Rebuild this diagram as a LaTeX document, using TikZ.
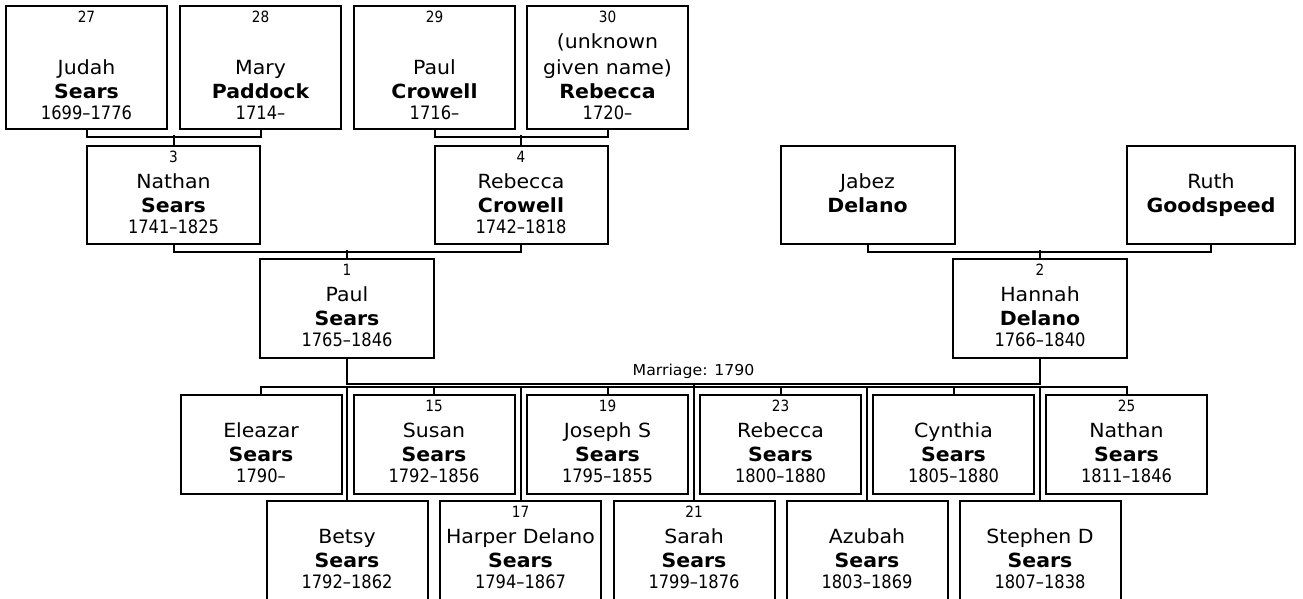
\documentclass[tikz,border=0pt]{standalone}
\usepackage{fontspec}
\setmainfont{DejaVu Sans}
\newfontfamily\namefont[FakeStretch=1.05]{DejaVu Sans}
\newfontfamily\datefont[FakeStretch=0.88]{DejaVu Sans}
\usetikzlibrary{calc}

% shift of the name lines in the top row
\def\lsh{0}
% box with number, given name, surname, dates
\newcommand{\pbox}[9]{%
  \node[pers,minimum width=#4,minimum height=#5,anchor=north] (#1) at (#2,#3) {};
  \if\relax\detokenize{#6}\relax\else
    \node[numtxt] at ([yshift=-17]#1.north) {#6};\fi
  \node[giventxt] at ([yshift=-43-\lsh]#1.north) {#7};
  \node[surtxt] at ([yshift=-67-\lsh]#1.north) {#8};
  \if\relax\detokenize{#9}\relax\else
    \node[datetxt] at ([yshift=-88-\lsh]#1.north) {#9};\fi
}

\begin{document}
\begin{tikzpicture}[x=1pt,y=-1pt]
\tikzstyle{pers}=[draw,line width=2pt,rectangle,inner sep=0pt]
\tikzstyle{numtxt}=[anchor=base,inner sep=0pt,font=\datefont\fontsize{15.5}{18}\selectfont]
\tikzstyle{giventxt}=[anchor=base,inner sep=0pt,font=\namefont\fontsize{19.5}{23}\selectfont]
\tikzstyle{surtxt}=[anchor=base,inner sep=0pt,font=\namefont\bfseries\fontsize{19.5}{23}\selectfont]
\tikzstyle{datetxt}=[anchor=base,inner sep=0pt,font=\datefont\fontsize{18.5}{22}\selectfont]
\tikzstyle{wedtxt}=[anchor=base,inner sep=0pt,font=\namefont\fontsize{15}{18}\selectfont]
\tikzstyle{conn}=[draw,line width=2pt]

\useasboundingbox (0,0) rectangle (1303,598);
\clip (0,0) rectangle (1303,598);

% great-grandparents
\def\lsh{26}
\pbox{judah}{86.5}{5}{161}{123}{27}{Judah}{Sears}{1699–1776}
\pbox{mary}{260.5}{5}{161}{123}{28}{Mary}{Paddock}{1714–}
\pbox{paulc}{434.5}{5}{161}{123}{29}{Paul}{Crowell}{1716–}
\pbox{rebecr}{607.5}{5}{161}{123}{30}{given name)}{Rebecca}{1720–}
\node[giventxt] at ([yshift=-43]rebecr.north) {(unknown};
\def\lsh{0}

% grandparents
\pbox{nathan}{173.5}{145}{173}{98}{3}{Nathan}{Sears}{1741–1825}
\pbox{rebecca}{521}{145}{173}{98}{4}{Rebecca}{Crowell}{1742–1818}
\pbox{jabez}{867.5}{145}{174}{98}{}{Jabez}{Delano}{}
\pbox{ruth}{1211}{145}{168}{98}{}{Ruth}{Goodspeed}{}

% parents
\pbox{paul}{347}{258}{174}{99}{1}{Paul}{Sears}{1765–1846}
\pbox{hannah}{1040}{258}{174}{99}{2}{Hannah}{Delano}{1766–1840}

% children, upper row
\pbox{eleazar}{261}{394}{161}{99}{}{Eleazar}{Sears}{1790–}
\pbox{susan}{434}{394}{161}{99}{15}{Susan}{Sears}{1792–1856}
\pbox{joseph}{607.5}{394}{161}{99}{19}{Joseph S}{Sears}{1795–1855}
\pbox{rebeccas}{780.5}{394}{161}{99}{23}{Rebecca}{Sears}{1800–1880}
\pbox{cynthia}{953.5}{394}{161}{99}{}{Cynthia}{Sears}{1805–1880}
\pbox{nathans}{1126.5}{394}{161}{99}{25}{Nathan}{Sears}{1811–1846}

% children, lower row
\pbox{betsy}{347}{500}{161}{100}{}{Betsy}{Sears}{1792–1862}
\pbox{harper}{520.5}{500}{161}{100}{17}{Harper Delano}{Sears}{1794–1867}
\pbox{sarah}{694}{500}{161}{100}{21}{Sarah}{Sears}{1799–1876}
\pbox{azubah}{867}{500}{161}{100}{}{Azubah}{Sears}{1803–1869}
\pbox{stephen}{1040}{500}{161}{100}{}{Stephen D}{Sears}{1807–1838}

% couples
\draw[conn] (judah.south) -- ++(0,7) -| (mary.south);
\draw[conn] (nathan.north) -- ++(0,-10);
\draw[conn] (paulc.south) -- ++(0,7) -| (rebecr.south);
\draw[conn] (rebecca.north) -- ++(0,-10);
\draw[conn] (nathan.south) -- ++(0,7) -| (rebecca.south);
\draw[conn] (paul.north) -- ++(0,-8);
\draw[conn] (jabez.south) -- ++(0,7) -| (ruth.south);
\draw[conn] (hannah.north) -- ++(0,-8);

% marriage and children
\draw[conn] (paul.south) -- ++(0,25) -| (hannah.south);
\coordinate (wed) at ($(paul.south)!0.5!(hannah.south)+(0,25)$);
\node[wedtxt] (wedlabel) at ([yshift=9]wed) {Marriage: 1790};
\draw[conn] (wed) -- ++(0,5);
\draw[conn] (eleazar.north) -- ++(0,-7) -| (nathans.north);
\foreach \c in {susan,joseph,rebeccas,cynthia}
  \draw[conn] (\c.north) -- ++(0,-7);
\foreach \c in {betsy,harper,sarah,azubah,stephen}
  \draw[conn] (\c.north) -- ++(0,-113);

\end{tikzpicture}
\end{document}
